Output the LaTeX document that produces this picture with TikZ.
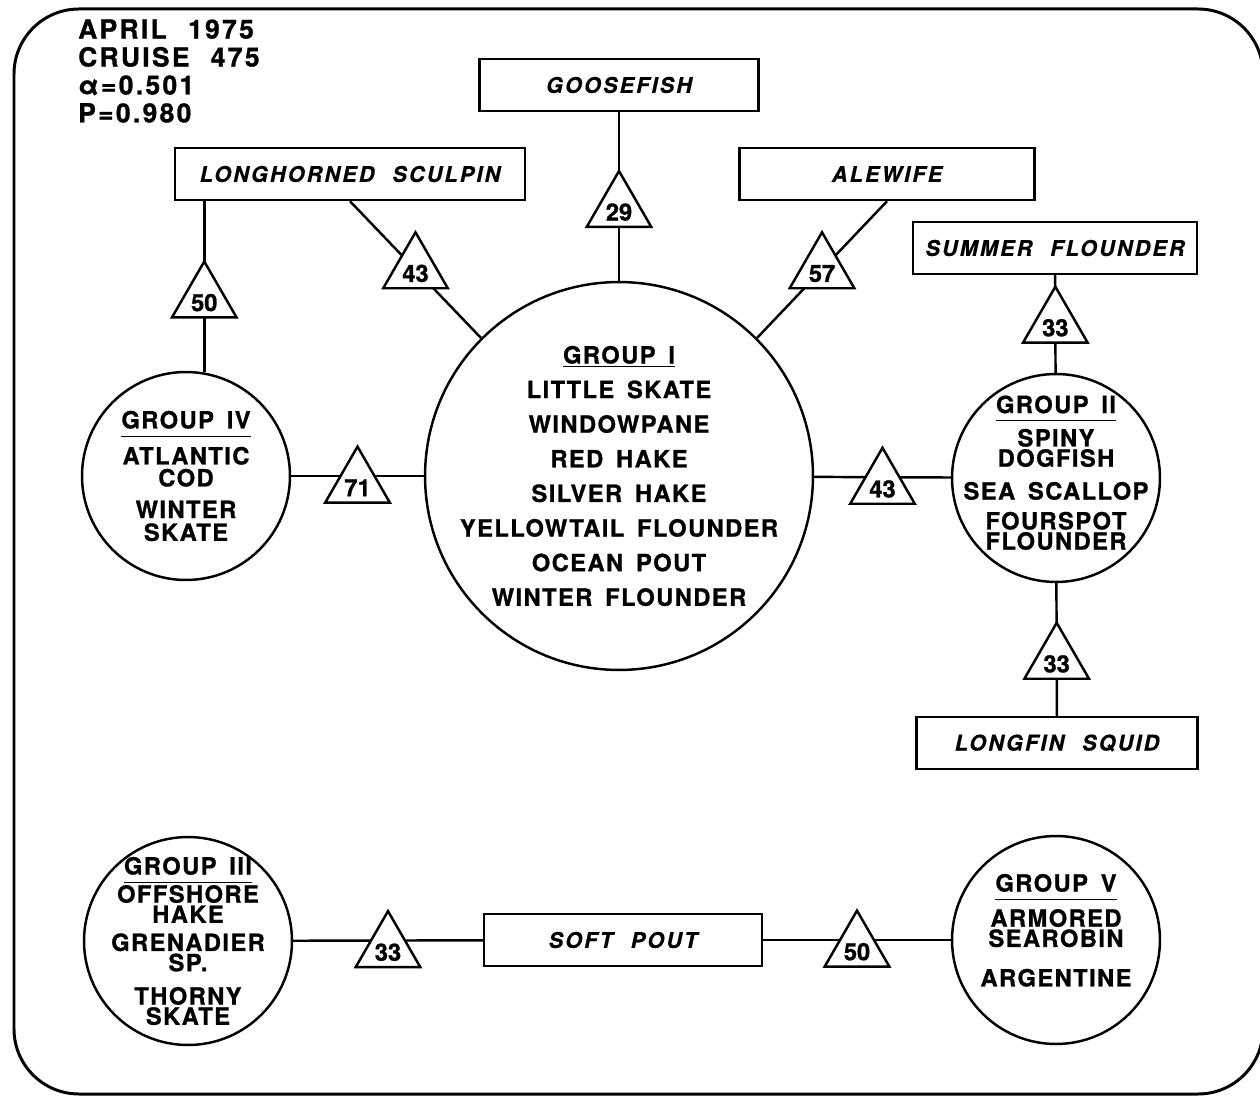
\documentclass[tikz,border=0pt]{standalone}
\usepackage{fontspec}
\setmainfont{TeX Gyre Heros}
\newfontfamily\grpfont[LetterSpace=6, WordSpace=1.6, FakeBold=1]{TeX Gyre Heros}
\newfontfamily\boxfont[LetterSpace=10, WordSpace=2.2, FakeBold=0.6]{TeX Gyre Heros}
\newfontfamily\headfont[LetterSpace=9, WordSpace=2.2, FakeBold=1]{TeX Gyre Heros}
\newfontfamily\numfont[FakeBold=1]{TeX Gyre Heros}
\usetikzlibrary{shapes.geometric,positioning}

\tikzset{
  grp/.style={circle, draw, minimum size=4.16cm, inner sep=0pt},
  biggrp/.style={grp, minimum size=7.76cm},
  grptext/.style={align=center, inner sep=0pt,
    font={\grpfont\bfseries\fontsize{13.5}{11.5}\selectfont\lineskiplimit=-20pt}},
  fishbox/.style={draw, minimum height=1.04cm, inner sep=0pt,
    font={\boxfont\bfseries\itshape\fontsize{12.3}{14}\selectfont}},
  tri/.style={regular polygon, regular polygon sides=3, draw, fill=white,
    minimum size=1.45cm, inner sep=0pt, text height=14pt, text depth=-3pt,
    font={\numfont\bfseries\fontsize{13.5}{15}\selectfont}}
}
\newcommand{\grphead}[1]{\underline{#1\rule[-3pt]{0pt}{1pt}}}

\begin{document}
\begin{tikzpicture}[x=0.02cm, y=-0.02cm, line width=1.4pt]
\useasboundingbox (0,0) rectangle (1260,1097);
% frame
\draw [line width=1.7pt, rounded corners=1.3cm] (14,9) rectangle (1263,1094);

\node [anchor=west, align=left, inner sep=0pt,
  font={\headfont\bfseries\fontsize{15}{15.9}\selectfont}] (cruise) at (77,71)
  {APRIL 1975\\CRUISE 475\\α=0.501\\P=0.980};

% groups
\node [biggrp] (g1) at (619,476) {};
\node [grp] (g2) at (1056,478) {};
\node [grp] (g3) at (188,941) {};
\node [grp] (g4) at (186,476) {};
\node [grp] (g5) at (1056,940) {};

% single species
\node [fishbox, minimum width=5.58cm] (goose) at (619,85) {GOOSEFISH};
\node [fishbox, minimum width=7.0cm] (sculpin) at (350,174) {LONGHORNED SCULPIN};
\node [fishbox, minimum width=5.9cm] (alewife) at (887,174) {ALEWIFE};
\node [fishbox, minimum width=5.68cm] (summer) at (1055,248) {SUMMER FLOUNDER};
\node [fishbox, minimum width=5.62cm] (squid) at (1057,743) {LONGFIN SQUID};
\node [fishbox, minimum width=5.56cm] (softpout) at (623,940) {SOFT POUT};

% group members
\node [grptext, font={\grpfont\bfseries\fontsize{13.5}{19.7}\selectfont}] (g1list) at (g1)
  {\underline{GROUP I}\\LITTLE SKATE\\WINDOWPANE\\RED HAKE\\SILVER HAKE\\
   YELLOWTAIL FLOUNDER\\OCEAN POUT\\WINTER FLOUNDER};
\node [grptext] (g2list) at ([yshift=3pt]g2.center)
  {\grphead{GROUP II}\\[7.5pt]SPINY\\DOGFISH\\[7.2pt]SEA SCALLOP\\[5.5pt]FOURSPOT\\FLOUNDER};
\node [grptext] (g3list) at (g3)
  {\grphead{GROUP III}\\[4.5pt]OFFSHORE\\HAKE\\[4.5pt]GRENADIER\\SP.\\[7.5pt]THORNY\\SKATE};
\node [grptext] (g4list) at (g4)
  {\grphead{GROUP IV}\\[9pt]ATLANTIC\\[1pt]COD\\[6.5pt]WINTER\\[1.5pt]SKATE};
\node [grptext] (g5list) at ([yshift=5.5pt]g5.center)
  {\grphead{GROUP V}\\[8.5pt]ARMORED\\SEAROBIN\\[11pt]ARGENTINE};

\path
(g4) edge node [tri, yshift=-4.5pt] (t71) {71} (g1)
(g1) edge node [tri, yshift=-4.5pt] (t43b) {43} (g2)
(goose) edge node [tri, pos=0.57] (t29) {29} (g1)
(sculpin.south) edge node [tri] (t43a) {43} (g1.135)
(alewife.south) edge node [tri] (t57) {57} (g1.45)
(summer) edge node [tri] (t33a) {33} (g2)
(g2) edge node [tri, pos=0.58] (t33b) {33} (squid)
(g4.80) edge node [tri, pos=0.43] (t50a) {50} (g4.80 |- sculpin.south)
(g3) edge node [tri, yshift=-4.5pt] (t33c) {33} (softpout)
(softpout) edge node [tri, yshift=-4.5pt] (t50b) {50} (g5);
\end{tikzpicture}
\end{document}
